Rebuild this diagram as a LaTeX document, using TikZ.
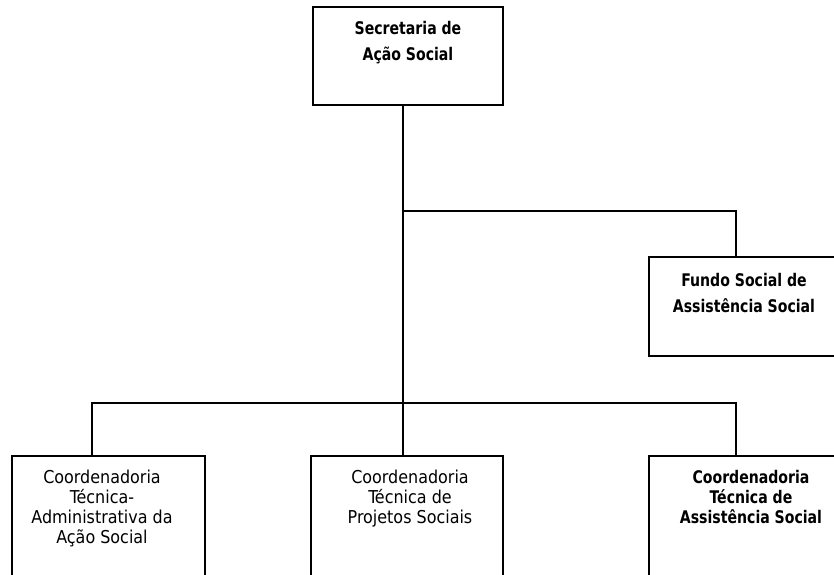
\documentclass[tikz,border=0pt]{standalone}
\usepackage{fontspec}
\setmainfont{DejaVu Sans Condensed}[BoldFeatures={FakeStretch=0.9}]
\usepackage{tikz}
\usetikzlibrary{positioning}

\tikzset{
  box/.style={draw, line width=1.3pt, inner sep=0pt},
  link/.style={line width=1.1pt},
  wide/.style={align=center, inner sep=0pt, anchor=north, font=\fontsize{9.9}{14.7}\selectfont\bfseries},
  tight/.style={align=center, inner sep=0pt, anchor=north, font=\fontsize{10.1}{11.4}\selectfont}
}

\begin{document}
\begin{tikzpicture}
  \useasboundingbox (0,0) rectangle (16.68,11.48);
  \clip (0,0) rectangle (16.68,11.48);

  % boxes
  \node[box, minimum width=3.8cm, minimum height=1.96cm] (sec) at (8.16,10.36) {};
  \node[box, anchor=north west, minimum width=3.84cm, minimum height=1.98cm] (fundo) at (12.96,6.36) {};
  \node[box, anchor=north west, minimum width=3.86cm, minimum height=2.6cm] (ctad) at (0.22,2.38) {};
  \node[box, anchor=north west, minimum width=3.84cm, minimum height=2.6cm] (ctps) at (6.20,2.38) {};
  \node[box, anchor=north west, minimum width=3.84cm, minimum height=2.6cm] (ctas) at (12.96,2.38) {};

  % texts
  \node[wide] (sectxt) at (8.16,11.06) {Secretaria de\\Ação Social};
  \node[wide] (fundotxt) at (14.88,6.02) {Fundo Social de\\Assistência Social};
  \node[tight] (ctadtxt) at (2.04,2.08) {Coordenadoria\\Técnica-\\Administrativa da\\Ação Social};
  \node[tight] (ctpstxt) at (8.20,2.08) {Coordenadoria\\Técnica de\\Projetos Sociais};
  \node[tight, font=\fontsize{9.9}{11.4}\selectfont\bfseries] (ctastxt) at (15.02,2.08) {Coordenadoria\\Técnica de\\Assistência Social};

  % connectors
  \coordinate (split) at (8.06,7.26);
  \coordinate (bus) at (8.06,3.42);
  \coordinate (fundoin) at (14.72,6.36);
  \coordinate (ctadin) at (1.84,2.38);
  \coordinate (ctasin) at (14.72,2.38);
  \draw[link] (sec.south -| bus) -- (ctps.north -| bus);
  \draw[link] (split) -| (fundoin);
  \draw[link] (ctadin) |- (bus) -| (ctasin);
\end{tikzpicture}
\end{document}
